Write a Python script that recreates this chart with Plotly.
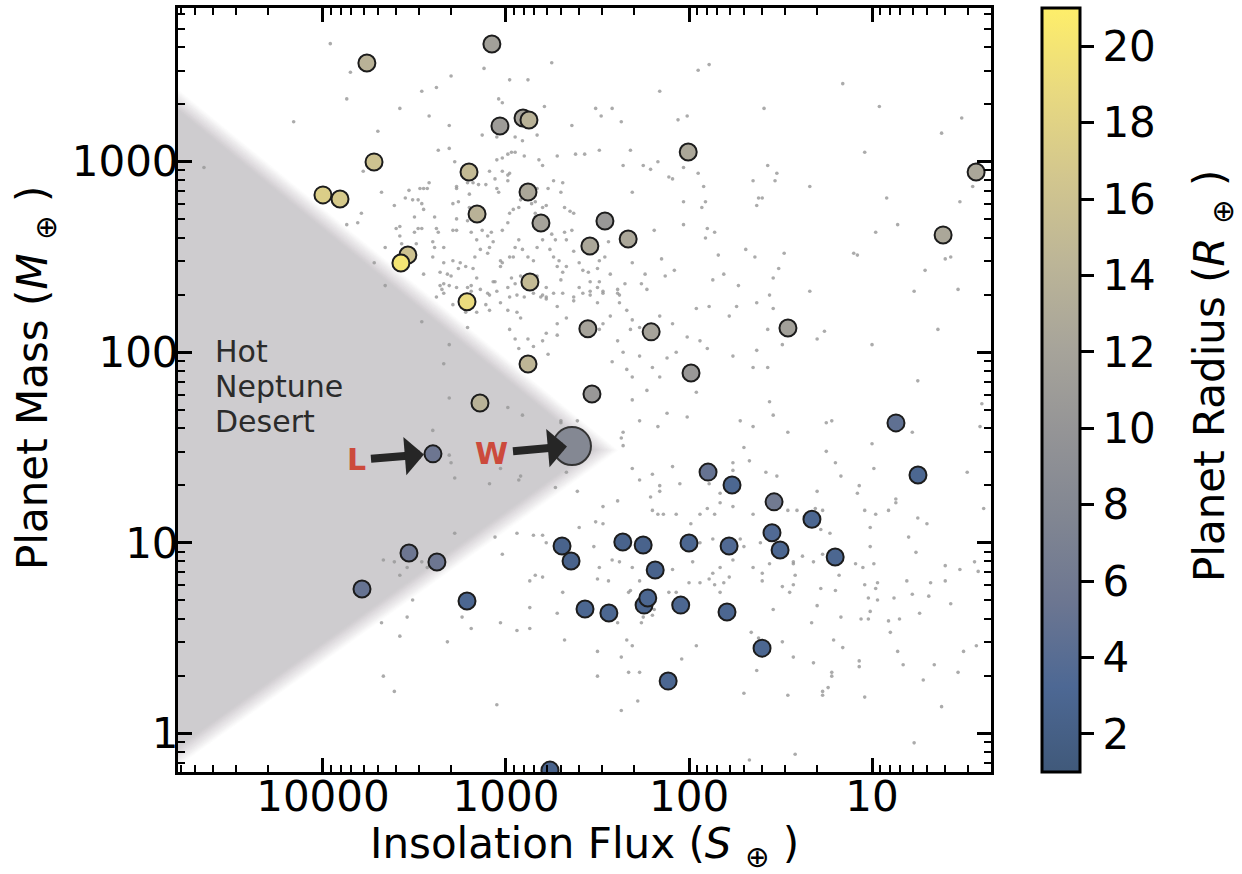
import numpy as np
import plotly.graph_objects as go
import plotly.colors as pc

FONT = "DejaVu Sans"

# ---------------- highlighted sample (flux in S_earth, mass in M_earth, radius in R_earth)
planet_flux = [1194, 5754, 5260, 10000, 8070, 3436, 3750, 1592, 1439, 1079, 807, 749, 758, 644, 288,
               215, 348, 101, 2.70, 4.09, 740, 1633, 357, 161, 28.8, 758, 97.5, 339, 1387, 2506,
               7.40, 5.61, 78.7, 58.2, 34.3, 21.3, 35.2, 31.8, 15.9, 494, 441, 230, 178, 100, 60.4,
               153, 3388, 2384, 6120, 1633, 370, 274, 176, 168, 111, 62.0, 39.9, 130, 575]
planet_mass = [4150, 3300, 998, 670, 638, 324, 294, 884, 532, 1542, 1698, 1657, 694, 477, 489,
               393, 361, 1125, 884, 413, 234, 184, 133, 128, 134, 86.8, 77.9, 60.4, 54.2, 29.3,
               42.6, 22.7, 23.5, 20.1, 16.4, 13.3, 11.3, 9.17, 8.42, 9.62, 8.03, 10.1, 9.73, 9.98, 9.62,
               7.20, 8.84, 7.93, 5.72, 4.95, 4.49, 4.28, 4.71, 5.13, 4.71, 4.33, 2.80, 1.88, 0.641]
planet_radius = [11.5, 14, 16, 17.5, 17, 16, 20, 15, 14, 11, 12, 14, 12.5, 12, 10.5,
                 12.5, 12.5, 12.5, 12.5, 12.5, 15, 19, 12, 12, 11.5, 14.5, 10.5, 10.5, 14, 5.5,
                 4.5, 3, 5, 3, 6, 3, 3.5, 3, 3, 2.5, 2.5, 2.5, 2.5, 3, 3.5,
                 2.5, 5.5, 5.5, 5, 3, 3, 3, 3, 3, 3, 3, 3, 3, 2.5]
L_INDEX = 29  # planet labelled "L"

# planet labelled "W"
w_flux = [436]
w_mass = [32.2]
w_radius = [8]

# ---------------- field population (log10 flux, log10 mass)
lf_a = [3.96,3.85,3.87,3.58,4.16,3.70,4.65,3.78,3.68,3.53,3.55,3.51,3.48,3.61,3.50,3.79,3.81,3.87,3.58,3.60,
        3.58,3.57,3.49,3.48,3.50,3.66,3.72,3.66]
lm_a = [3.62,3.47,3.33,3.28,3.21,3.16,2.97,2.95,2.84,2.85,2.81,2.80,2.80,2.77,2.71,2.73,2.68,2.67,2.66,2.65,
        2.61,2.57,2.57,2.65,2.63,2.55,2.47,2.35]
lf_b = [3.67,3.61,3.54,3.58,3.51,3.68,3.54,3.58,3.67,3.61]
lm_b = [0.91,0.90,0.87,0.83,0.70,0.58,0.61,0.51,0.30,0.22]
lf_c = [2.75,3.12,3.30,2.98,2.88,3.46,3.38,3.04,3.02,2.79,
        2.51,2.42,2.48,2.37,2.16,1.95,1.89,1.59,2.06,2.01,
        3.42,3.31,3.13,3.05,2.95,2.91,2.83,2.64,3.37,3.31,
        3.28,3.05,3.02,2.99,2.97,2.95,2.90,2.82,2.80,2.72,
        2.62,2.57,2.49,2.32,2.36,2.25,2.21,2.17,2.11,2.09,
        2.03,1.95,2.31,2.03,1.92,1.91,1.93,2.03,2.19,1.90,
        1.86,1.91,1.65,1.57,1.52,1.53,1.62,1.60,1.63,1.34,
        1.69,1.64,1.48,1.51,1.54,1.56,1.34,1.73,1.81,1.84,
        1.87,2.08,2.13,2.15,2.24,2.26,2.23,2.35,2.31,2.44]
lm_c = [3.52,3.49,3.45,3.43,3.43,3.37,3.39,3.33,3.31,3.29,
        3.28,3.28,3.24,3.21,3.37,3.48,3.51,3.28,3.22,3.24,
        3.24,3.19,3.14,3.13,3.13,3.11,3.14,3.19,3.06,3.07,
        3.00,3.01,3.02,3.04,3.05,3.05,3.03,3.01,2.98,3.03,
        3.04,3.04,3.06,3.06,2.98,2.98,2.96,3.00,2.92,2.91,
        2.97,2.94,2.84,2.79,2.87,2.79,2.76,2.67,2.64,2.65,
        2.63,2.60,2.90,2.98,2.94,2.90,2.81,2.81,2.77,2.87,
        2.54,2.50,2.52,2.44,2.39,2.30,2.32,2.35,2.41,2.51,
        2.38,2.43,2.40,2.49,2.41,2.36,2.33,2.36,2.47,2.58]
lf_d = [3.46,3.47,3.45,3.43,3.42,3.45,3.39,3.38,3.37,3.46,
        3.40,3.45,3.36,3.34,3.29,3.29,3.27,3.27,3.29,3.26,
        3.27,3.27,3.20,3.21,3.18,3.15,3.11,3.09,3.06,3.05,
        3.04,3.02,2.99,2.98,2.99,3.20,3.21,3.19,3.16,3.13,
        3.10,3.08,3.07,3.09,3.10,3.14,3.17,3.18,3.16,3.22,
        3.25,3.26,3.30,3.32,3.34,3.21,3.19,3.03,3.03,3.02,
        2.98,2.96,2.95,3.02,2.99,2.98,2.96,2.93,2.92,2.90,
        2.86,2.84,2.93,2.91,2.88,2.85,2.83,2.80,2.76,2.74,
        2.71,2.72,2.92,2.97,2.95,2.99,3.07,3.05,3.09,2.83,
        2.78,2.74,2.68,2.64,2.63,2.65,2.68,2.70,2.69,2.74,
        2.77,2.83,2.78,2.80,2.84,2.84,2.75,2.73,2.67,2.63,
        2.60,2.58,2.55,2.50,2.49,2.46,2.54,2.49,2.43,2.39,
        2.38,2.47,2.54,2.58,2.63,2.67,2.69,2.70,2.80,2.78,
        2.85,2.90,2.94,2.98,3.39,3.34,3.40,3.31,3.35,3.38]
lm_d = [2.78,2.86,2.86,2.86,2.89,2.75,2.71,2.65,2.63,2.65,
        2.58,2.41,2.42,2.36,2.48,2.64,2.64,2.70,2.78,2.79,
        2.87,2.86,2.83,2.89,2.89,2.88,2.88,2.95,2.91,2.86,
        2.84,2.95,2.93,2.94,2.90,2.76,2.69,2.63,2.59,2.64,
        2.61,2.63,2.58,2.55,2.52,2.54,2.50,2.44,2.39,2.45,
        2.47,2.44,2.40,2.41,2.47,2.34,2.32,2.48,2.45,2.47,
        2.50,2.50,2.55,2.64,2.68,2.73,2.75,2.76,2.80,2.82,
        2.78,2.79,2.59,2.54,2.50,2.48,2.55,2.59,2.54,2.50,
        2.48,2.45,2.40,2.39,2.36,2.34,2.37,2.32,2.30,2.40,
        2.34,2.31,2.63,2.64,2.73,2.74,2.76,2.84,2.89,2.90,
        2.86,2.86,2.77,2.76,2.73,2.71,2.62,2.59,2.59,2.53,
        2.47,2.43,2.42,2.44,2.48,2.50,2.37,2.37,2.41,2.33,
        2.30,2.31,2.32,2.31,2.29,2.45,2.42,2.38,2.30,2.29,
        2.31,2.29,2.30,2.29,2.55,2.55,2.50,2.35,2.33,2.29]
lf_e = [3.36,3.27,3.19,3.14,3.10,3.06,3.03,2.99,3.09,3.34,
        3.29,3.22,3.16,3.11,2.94,2.92,2.98,2.95,2.88,2.93,
        2.85,2.81,2.78,2.72,2.69,2.63,2.60,2.54,2.50,2.47,
        2.67,2.72,2.78,2.72,2.80,2.77,2.50,2.39,2.38,2.43,
        2.47,2.49,2.34,2.31,2.27,2.32,2.39,2.36,2.42,2.34,
        2.31,2.27,2.20,2.16,2.12,2.07,2.16,2.09,2.01,1.94,
        1.90,1.96,1.89,1.78,1.74,1.63,1.57,1.54,1.76,1.65,
        1.57,1.63,1.49,1.30,1.96,2.01,2.12,2.17,2.27,2.31,
        2.23,2.36,2.37,2.36,2.31,2.27,2.39,2.47,2.61,2.73,
        2.67,2.70,2.70,2.61,2.92,2.93,3.09,3.03,3.28,3.30,
        3.31,3.40,3.31,3.34,3.46,3.31,3.21,2.99,2.91,3.28,
        3.06,3.02,2.94,2.85,2.80,2.78,2.84,2.80,2.60,2.51,
        2.47,2.52,2.61,2.21,2.20,2.17,2.14,2.20,2.16,2.16,
        2.09,2.05,2.07,1.99,1.98,1.94,1.90,1.86,1.83,1.78,
        1.76,1.67,1.70,1.72,1.65,1.54,1.56,1.46,1.58,1.52,
        1.46,1.41,1.38,1.43,1.30,1.94,1.87,1.72,1.70,1.61,
        1.65,1.60,1.76,1.83,1.87,2.09,1.98,2.01,2.38,2.42,
        2.31,2.49,1.76,1.83,1.89,1.76,1.65]
lm_e = [2.35,2.34,2.35,2.33,2.31,2.37,2.26,2.22,2.22,2.31,
        2.25,2.21,2.21,2.25,2.21,2.18,2.12,2.07,2.07,2.02,
        2.03,2.29,2.28,2.24,2.31,2.27,2.34,2.30,2.34,2.32,
        2.18,2.15,2.10,2.09,2.06,1.99,2.26,2.31,2.26,2.19,
        2.15,2.12,2.22,2.17,2.13,2.12,2.06,2.00,1.95,1.91,
        1.87,1.98,1.92,1.87,1.97,2.00,2.19,2.15,2.08,2.06,
        2.02,2.23,2.24,2.19,2.24,2.26,2.12,2.23,1.98,1.92,
        1.92,2.01,2.04,2.07,1.79,1.66,1.68,1.61,1.64,1.75,
        1.80,1.58,1.55,1.51,1.39,1.33,1.22,1.19,1.27,1.29,
        1.37,1.64,1.63,1.64,1.35,1.33,1.31,1.39,1.34,1.42,
        1.46,1.59,1.76,1.94,2.16,2.04,2.13,1.71,1.67,1.05,
        1.03,0.94,1.05,1.04,1.04,1.00,0.83,0.82,1.08,1.11,
        1.10,0.98,0.91,1.24,1.17,1.15,1.15,1.36,1.30,1.27,
        1.40,1.31,1.15,1.10,1.03,1.15,1.18,1.15,1.21,1.28,
        1.42,1.43,1.50,1.64,1.61,1.67,1.74,1.58,1.37,1.35,
        1.17,1.17,0.93,0.90,1.27,1.00,1.02,1.02,0.98,1.00,
        0.87,0.84,0.91,0.87,0.84,0.86,0.90,0.96,0.90,0.91,
        0.87,0.87,1.38,1.26,1.31,1.19,1.15]
lf_f = [3.46,3.43,3.32,3.24,3.19,3.03,2.94,2.87,2.87,2.87,
        2.69,2.72,2.68,2.50,2.44,2.50,2.50,3.05,2.27,2.32,
        2.33,2.25,2.26,2.39,2.34,2.31,2.37,2.33,2.27,2.28,
        2.37,2.20,2.19,2.11,2.07,2.04,1.96,2.00,1.94,1.89,
        1.86,1.83,1.81,1.78,1.60,1.56,1.49,1.45,1.43,1.42,
        1.43,1.54,1.66,1.62,1.63,1.70,1.49,1.43,1.46,1.32,
        1.42,1.67,1.30,1.33]
lm_f = [0.90,0.87,0.48,0.61,0.55,0.58,0.54,0.55,0.66,0.80,
        0.74,0.63,0.49,0.81,0.80,0.43,0.30,0.15,0.80,0.75,
        0.74,0.61,0.58,0.58,0.49,0.46,0.40,0.32,0.32,0.17,
        0.12,0.62,0.65,0.74,0.74,0.39,0.46,0.79,0.79,0.81,
        0.78,0.74,0.79,0.82,0.80,0.89,0.77,0.74,0.89,0.83,
        0.78,0.65,0.53,0.50,0.33,0.21,0.48,0.40,0.20,0.37,
        -0.11,-0.14,0.67,0.58]
lf_g = [1.16,0.96,0.51,0.62,1.04,0.92,0.45,0.52,0.86,0.98,1.10,1.08,0.60,0.57,0.71,0.77,0.53]
lm_g = [3.41,3.29,3.23,3.15,3.05,2.81,2.87,2.79,2.67,2.63,2.52,2.51,2.49,2.50,2.43,2.32,2.33]
lf_h = [1.26,1.00,0.64,0.75,1.25,1.22,0.78,1.00,0.41,0.40,
        1.25,1.20,1.17,0.99,1.07,1.08,1.04,0.98,0.91,0.87,
        0.87,0.48,0.39,0.75,0.70,1.31,1.27,1.28,1.23,1.32,
        1.27,1.01,1.01,0.80,0.76,0.99,1.09,1.05,1.18,0.60,
        0.52,0.44]
lm_h = [2.11,2.04,2.12,1.85,1.63,1.64,1.58,1.52,1.61,1.73,
        1.48,1.42,1.35,1.39,1.30,1.26,1.17,1.15,1.17,1.23,
        1.21,1.37,1.18,1.13,1.10,1.18,1.17,1.07,1.05,0.90,
        0.94,1.08,0.98,1.03,0.95,0.89,0.89,0.87,0.83,0.88,
        0.86,0.90]
lf_i = [0.42,1.28,1.20,1.04,0.97,0.98,1.02,0.97,0.88,0.81,
        0.68,0.60,0.78,0.69,0.57,1.01,1.06,1.02,0.91,0.85,
        0.74,0.90,1.17,1.21,1.16,1.07,1.07,1.22,1.22,1.24,
        1.27,1.27,1.04,0.86,0.83,0.66,0.72,0.53,0.50,0.43,
        0.62,0.77]
lm_i = [0.85,0.76,0.75,0.78,0.79,0.76,0.71,0.70,0.71,0.80,
        0.79,0.80,0.73,0.72,0.68,0.64,0.60,0.60,0.59,0.60,
        0.63,0.53,0.61,0.49,0.45,0.38,0.35,0.32,0.30,0.24,
        0.22,0.20,0.19,0.43,0.36,0.36,0.28,0.32,0.43,0.46,
        0.14,-0.05]

field_log_flux = lf_a + lf_b + lf_c + lf_d + lf_e + lf_f + lf_g + lf_h + lf_i
field_log_mass = lm_a + lm_b + lm_c + lm_d + lm_e + lm_f + lm_g + lm_h + lm_i
assert len(field_log_flux) == len(field_log_mass)
field_flux = [10 ** v for v in field_log_flux]
field_mass = [10 ** v for v in field_log_mass]

# ---------------- hot Neptune desert boundary (tip and far corners)
desert_flux = [288, 1.0e6, 1.0e6]
desert_mass = [30.7, 18900, 0.111]
desert_label = ["Hot", "Neptune", "Desert"]

x_tick_vals = [10, 100, 1000, 10000]
x_tick_text = ["10", "100", "1000", "10000"]
y_tick_vals = [1, 10, 100, 1000]
y_tick_text = ["1", "10", "100", "1000"]
cbar_ticks = [2, 4, 6, 8, 10, 12, 14, 16, 18, 20]
radius_range = [1, 21]

x_title = "Insolation Flux (<i>S</i> <sub>⊕</sub> )"
y_title = "Planet Mass (<i>M</i> <sub>⊕</sub> )"
c_title = "Planet Radius (<i>R</i> <sub>⊕</sub> )"

# ---------------- layout geometry
W, H = 1242, 874
ML, MR, MT, MB = 178, 251, 8, 102
X_RANGE = [4.792, 0.350]
Y_RANGE = [-0.203, 3.807]
plot_w = W - ML - MR
plot_h = H - MT - MB
kx = plot_w / (X_RANGE[0] - X_RANGE[1])
ky = plot_h / (Y_RANGE[1] - Y_RANGE[0])

# colour scale: cividis seen through alpha 0.75 on white
def _rgb(c):
    if c.startswith("#"):
        return pc.hex_to_rgb(c)
    return pc.unlabel_rgb(c)

base = pc.sequential.Cividis
ALPHA = 0.75
cscale = []
for i, c in enumerate(base):
    r, g, b = _rgb(c)
    r, g, b = [ALPHA * v + (1 - ALPHA) * 255 for v in (r, g, b)]
    cscale.append([i / (len(base) - 1), f"rgb({r:.0f},{g:.0f},{b:.0f})"])

fig = go.Figure()

# ---------------- blurred desert wedge (nested offset polygons)
P = np.array([[(X_RANGE[0] - np.log10(f)) * kx, np.log10(m) * ky]
              for f, m in zip(desert_flux, desert_mass)])
area = 0.5 * sum(P[i, 0] * P[(i + 1) % 3, 1] - P[(i + 1) % 3, 0] * P[i, 1] for i in range(3))
if area < 0:
    P = P[::-1]


def offset_polygon(poly, o):
    n = len(poly)
    lines = []
    for i in range(n):
        a, b = poly[i], poly[(i + 1) % n]
        d = (b - a) / np.linalg.norm(b - a)
        nrm = np.array([-d[1], d[0]])
        lines.append((a + nrm * o, d))
    out = []
    for i in range(n):
        p1, d1 = lines[i - 1]
        p2, d2 = lines[i]
        A = np.array([d1, -d2]).T
        t, _ = np.linalg.solve(A, p2 - p1)
        out.append(p1 + t * d1)
    return np.array(out)


BLUR = 8.0
NL = 16
offsets = np.linspace(-BLUR, BLUR, NL)
for k, o in enumerate(offsets):
    a = 1.0 / (NL - k)
    Q = offset_polygon(P, o)
    xs = [10 ** (X_RANGE[0] - q[0] / kx) for q in Q] + [10 ** (X_RANGE[0] - Q[0][0] / kx)]
    ys = [10 ** (q[1] / ky) for q in Q] + [10 ** (Q[0][1] / ky)]
    fig.add_trace(go.Scatter(x=xs, y=ys, mode="lines", fill="toself",
                             fillcolor=f"rgba(206,204,207,{a:.4f})",
                             line=dict(width=0, color="rgba(0,0,0,0)"),
                             hoverinfo="skip", showlegend=False))

# ---------------- field population
fig.add_trace(go.Scatter(x=field_flux, y=field_mass, mode="markers",
                         marker=dict(size=3.6, color="rgba(150,150,150,0.8)", line=dict(width=0)),
                         hoverinfo="skip", showlegend=False))

# ---------------- highlighted sample
fig.add_trace(go.Scatter(
    x=planet_flux, y=planet_mass, mode="markers", showlegend=False,
    marker=dict(size=17, color=planet_radius, colorscale=cscale,
                cmin=radius_range[0], cmax=radius_range[1],
                line=dict(width=2, color="#1c1c1c"),
                colorbar=dict(thickness=38, thicknessmode="pixels", len=1, lenmode="fraction",
                              x=(1042 - ML) / plot_w, xanchor="left", y=0.5, yanchor="middle",
                              xpad=0, ypad=0, outlinewidth=3, outlinecolor="black",
                              ticks="outside", ticklen=13, tickwidth=3, tickcolor="black",
                              tickmode="array", tickvals=cbar_ticks,
                              tickfont=dict(family=FONT, size=42, color="black")))))

fig.add_trace(go.Scatter(
    x=w_flux, y=w_mass, mode="markers", showlegend=False,
    marker=dict(size=38, color=w_radius, colorscale=cscale,
                cmin=radius_range[0], cmax=radius_range[1], showscale=False,
                line=dict(width=2, color="#333333"))))

# ---------------- axes
def minor_vals(lo, hi):
    vals = []
    for d in range(lo, hi + 1):
        for m in range(2, 10):
            vals.append(m * 10.0 ** d)
    return vals

axis_common = dict(type="log", showgrid=False, zeroline=False, showline=True,
                   linecolor="black", linewidth=3, mirror="allticks", automargin=False,
                   ticks="inside", ticklen=14, tickwidth=2.5, tickcolor="black",
                   tickfont=dict(family=FONT, size=42, color="black"))

fig.update_xaxes(**axis_common, range=X_RANGE, tickmode="array",
                 tickvals=x_tick_vals, ticktext=x_tick_text, ticklabelstandoff=-14,
                 minor=dict(ticks="inside", ticklen=7, tickwidth=2, tickcolor="black",
                            tickmode="array", tickvals=minor_vals(0, 4), showgrid=False))
fig.update_yaxes(**axis_common, range=Y_RANGE, tickmode="array",
                 tickvals=y_tick_vals, ticktext=y_tick_text, ticklabelstandoff=-12,
                 minor=dict(ticks="inside", ticklen=7, tickwidth=2, tickcolor="black",
                            tickmode="array", tickvals=minor_vals(-1, 3), showgrid=False))

# ---------------- annotations
annotations = []
label_y_px = [351, 386, 421]
for txt, py in zip(desert_label, label_y_px):
    annotations.append(dict(x=(213 - ML) / plot_w, y=(H - MB - py) / plot_h, xref="paper", yref="paper",
                            text=txt, showarrow=False, xanchor="left", yanchor="middle",
                            font=dict(family=FONT, size=30, color="#2b2b2b")))

# axis titles
annotations.append(dict(x=0.5, y=(H - MB - 846) / plot_h, xref="paper", yref="paper",
                        text=x_title, showarrow=False, xanchor="center", yanchor="middle",
                        font=dict(family=FONT, size=42, color="black")))
annotations.append(dict(x=(35 - ML) / plot_w, y=(H - MB - 378) / plot_h, xref="paper", yref="paper",
                        text=y_title, textangle=-90, showarrow=False,
                        xanchor="center", yanchor="middle",
                        font=dict(family=FONT, size=42, color="black")))
annotations.append(dict(x=(1213 - ML) / plot_w, y=(H - MB - 376) / plot_h, xref="paper", yref="paper",
                        text=c_title, textangle=-90, showarrow=False,
                        xanchor="center", yanchor="middle",
                        font=dict(family=FONT, size=42, color="black")))

RED = "#cc4a3c"
annotations.append(dict(x=np.log10(planet_flux[L_INDEX]), y=np.log10(planet_mass[L_INDEX]),
                        xref="x", yref="y", text="<b>L</b>", showarrow=True,
                        arrowhead=1, arrowsize=0.8, arrowwidth=8, arrowcolor="#262626",
                        ax=-76, ay=6, standoff=9, borderpad=4,
                        font=dict(family=FONT, size=30, color=RED)))
annotations.append(dict(x=np.log10(w_flux[0]), y=np.log10(w_mass[0]),
                        xref="x", yref="y", text="<b>W</b>", showarrow=True,
                        arrowhead=1, arrowsize=0.8, arrowwidth=8, arrowcolor="#262626",
                        ax=-80, ay=7, standoff=5, borderpad=4,
                        font=dict(family=FONT, size=30, color=RED)))

fig.update_layout(width=W, height=H, margin=dict(l=ML, r=MR, t=MT, b=MB, autoexpand=False),
                  paper_bgcolor="white", plot_bgcolor="white",
                  font=dict(family=FONT, color="black"),
                  annotations=annotations, showlegend=False)

fig.write_html("out.html")
